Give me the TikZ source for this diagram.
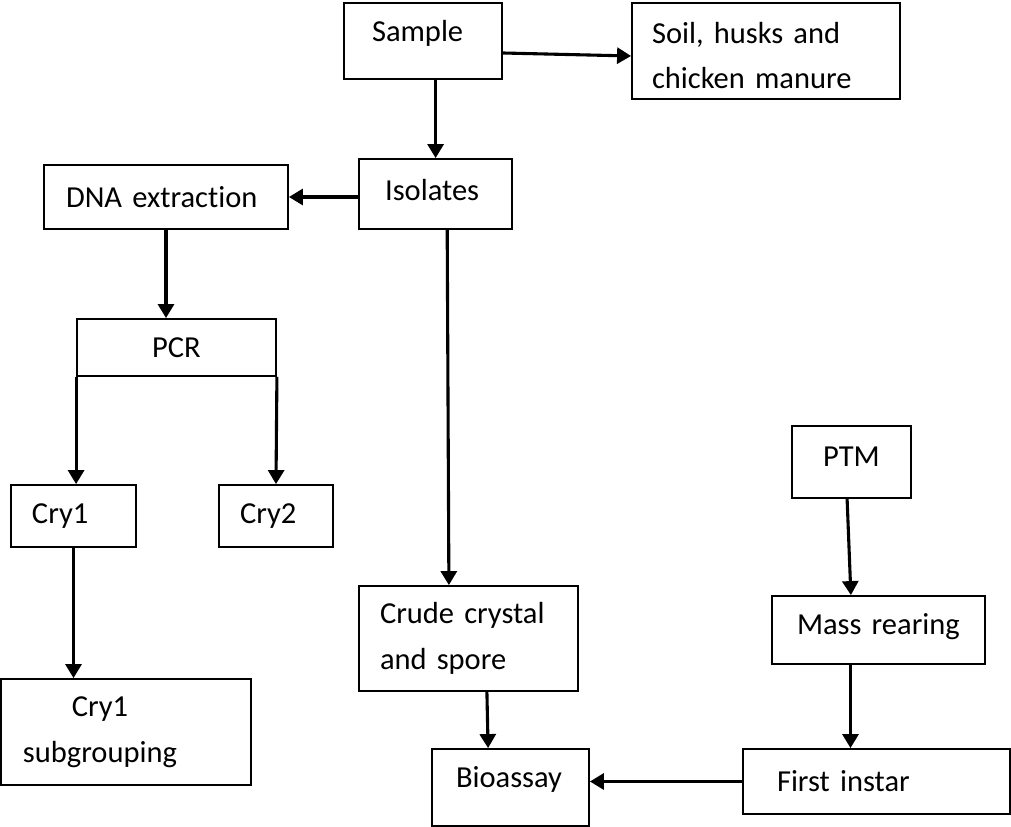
\documentclass[tikz,border=0pt]{standalone}
\usepackage{fontspec}
\setmainfont{Carlito}[Ligatures=NoCommon]
\usepackage{tikz}
\usetikzlibrary{arrows.meta}

\begin{document}
\begin{tikzpicture}[
		box/.style={draw, line width=1.3pt, align=left, inner ysep=0pt, font=\fontsize{21.7pt}{32.5pt}\selectfont},
		arr/.style={line width=2.2pt, -{Triangle[length=0.35cm,width=0.4cm]}}
	]
		%%%%% START %%%%%
		
		\useasboundingbox (0, 0) rectangle (25.275, -20.675);
		
		\node[box, minimum width=3.95cm, minimum height=1.9cm, inner xsep=0.7cm, text width=2.55cm, text depth=0.5cm] (sample) at (10.575, -1.025) {Sample};
		\node[box, minimum width=6.7cm, minimum height=2.4cm, inner xsep=0.5cm, text width=5.7cm] (soil) at (19.15, -1.275) {\rule{0pt}{0.75cm}Soil, husks and\\chicken manure};
		\node[box, minimum width=3.825cm, minimum height=1.75cm, inner xsep=0.65cm, text width=2.525cm, text depth=0.2cm] (isolates) at (10.89, -4.85) {Isolates};
		\node[box, minimum width=6.1cm, minimum height=1.6cm, inner xsep=0.55cm, text width=5cm] (dna) at (4.15, -4.925) {DNA extraction};
		\node[box, minimum width=4.975cm, minimum height=1.425cm, align=center] (pcr) at (4.4125, -8.6875) {PCR};
		
		\node[box, minimum width=3.125cm, minimum height=1.55cm, inner xsep=0.525cm, text width=2.075cm] (cry1) at (1.8375, -12.9) {Cry1};
		\node[box, minimum width=2.85cm, minimum height=1.55cm, inner xsep=0.525cm, text width=1.8cm] (cry2) at (6.9, -12.9) {Cry2};
		\node[box, minimum width=6.25cm, minimum height=2.65cm, inner xsep=0.55cm, text width=5.15cm] (subgroup) at (3.15, -18.3) {\hspace*{1.22cm}Cry1\\subgrouping};
		
		\node[box, minimum width=5.475cm, minimum height=2.625cm, inner xsep=0.525cm, text width=4.425cm] (crude) at (11.7125, -15.9625) {Crude crystal\\and spore};
		\node[box, minimum width=3.925cm, minimum height=1.925cm, inner xsep=0.6cm, text width=2.725cm, text depth=0.53cm] (bioassay) at (12.7625, -19.6875) {Bioassay};
		
		\node[box, minimum width=2.975cm, minimum height=1.8cm, align=center, text depth=0.25cm] (ptm) at (21.2875, -11.55) {PTM};
		\node[box, minimum width=5.325cm, minimum height=1.7cm, inner xsep=0.625cm, text width=4.075cm, text depth=0.3cm] (mass) at (21.9625, -15.75) {Mass rearing};
		\node[box, minimum width=6.675cm, minimum height=1.625cm, inner xsep=0.85cm, text width=4.975cm] (instar) at (21.9125, -19.5375) {First instar};
		
		\draw[arr] ([yshift=-0.3cm]sample.east) -- ([yshift=-0.125cm]soil.west);
		\draw[arr] (isolates.north |- sample.south) -- (isolates.north);
		\draw[arr] (isolates.west |- dna.east) -- (dna.east);
		\draw[arr] (dna.south) -- (dna.south |- pcr.north);
		\draw[arr] (pcr.south west) -- (pcr.south west |- cry1.north);
		\draw[arr] (pcr.south east) -- (cry2.north);
		\draw[arr] (cry1.south) -- (cry1.south |- subgroup.north);
		
		\draw[arr] ([xshift=0.29cm]isolates.south) -- ([xshift=-0.49cm]crude.north);
		\draw[arr] ([xshift=0.46cm]crude.south) -- ([xshift=-0.56cm]bioassay.north);
		\draw[arr] ([xshift=-0.11cm]ptm.south) -- ([xshift=-0.69cm]mass.north);
		\draw[arr] ([xshift=-0.7cm]mass.south) -- ([xshift=-0.7cm]mass.south |- instar.north);
		\draw[arr] (instar.west) -- (instar.west -| bioassay.east);
		
		%%%%% END %%%%%
	\end{tikzpicture}
\end{document}
